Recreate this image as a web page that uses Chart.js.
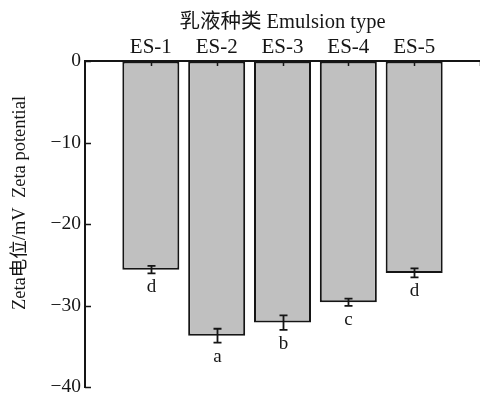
<!DOCTYPE html>
<html>
<head>
<meta charset="utf-8">
<script src="https://cdn.jsdelivr.net/npm/chart.js@4.4.1/dist/chart.umd.min.js"></script>
<style>
  html, body { margin: 0; padding: 0; background: #fff; }
  .chart { position: relative; width: 480px; height: 393px; }
</style>
</head>
<body>
<div class="chart"><canvas id="zeta"></canvas></div>
<script>
const categories = ['ES-1', 'ES-2', 'ES-3', 'ES-4', 'ES-5'];
const zetaValues = [-25.6, -33.7, -32.1, -29.6, -26.0];
const zetaErrors = [0.45, 0.85, 0.9, 0.45, 0.55];
const sigLetters = ['d', 'a', 'b', 'c', 'd'];
const yTicks = [0, -10, -20, -30, -40];
const xTitle = '乳液种类 Emulsion type';
const yTitle = 'Zeta电位/mV  Zeta potential';

const serif = "'Liberation Serif', 'Noto Sans CJK SC', serif";
const ink = '#151515';

// one empty slot each side, as in the figure
const labels = [''].concat(categories, ['']);
const barData = [null].concat(zetaValues, [null]);

const inwardTicks = {
  id: 'inwardTicks',
  afterDraw(chart) {
    const ctx = chart.ctx;
    const x = chart.scales.x, y = chart.scales.y;
    const area = chart.chartArea;
    ctx.save();
    ctx.strokeStyle = ink;
    ctx.lineWidth = 1.5;
    ctx.beginPath();
    for (let i = 1; i < labels.length; i++) {
      const px = Math.round(x.getPixelForValue(i)) + 0.5;
      ctx.moveTo(px, area.top);
      ctx.lineTo(px, area.top + 5);
    }
    yTicks.forEach(v => {
      const py = Math.round(y.getPixelForValue(v)) + 0.5;
      ctx.moveTo(area.left, py);
      ctx.lineTo(area.left + 6, py);
    });
    ctx.stroke();
    ctx.restore();
  }
};

const errorBars = {
  id: 'errorBars',
  afterDatasetsDraw(chart) {
    const ctx = chart.ctx;
    const y = chart.scales.y;
    const meta = chart.getDatasetMeta(0);
    ctx.save();
    ctx.strokeStyle = ink;
    ctx.fillStyle = ink;
    ctx.lineWidth = 1.8;
    ctx.font = '19px ' + serif;
    ctx.textAlign = 'center';
    ctx.textBaseline = 'alphabetic';
    zetaValues.forEach((v, i) => {
      const bar = meta.data[i + 1];
      const px = Math.round(bar.x) + 0.5;
      const hi = y.getPixelForValue(v + zetaErrors[i]);
      const lo = y.getPixelForValue(v - zetaErrors[i]);
      ctx.beginPath();
      ctx.moveTo(px, hi); ctx.lineTo(px, lo);
      ctx.moveTo(px - 4, hi); ctx.lineTo(px + 4, hi);
      ctx.moveTo(px - 4, lo); ctx.lineTo(px + 4, lo);
      ctx.stroke();
      ctx.fillText(sigLetters[i], px, lo + 19);
    });
    ctx.restore();
  }
};

const sideTitle = {
  id: 'sideTitle',
  afterDraw(chart) {
    const ctx = chart.ctx;
    ctx.save();
    ctx.translate(20, 203);
    ctx.rotate(-Math.PI / 2);
    ctx.font = '18.5px ' + serif;
    ctx.fillStyle = ink;
    ctx.textAlign = 'center';
    ctx.textBaseline = 'middle';
    ctx.fillText(yTitle, 0, 0);
    ctx.restore();
  }
};

new Chart(document.getElementById('zeta'), {
  type: 'bar',
  data: {
    labels: labels,
    datasets: [{
      data: barData,
      backgroundColor: '#c0c0c0',
      borderColor: ink,
      borderWidth: 2,
      borderSkipped: false,
      barPercentage: 0.866,
      categoryPercentage: 1,
    }]
  },
  options: {
    responsive: true,
    maintainAspectRatio: false,
    animation: false,
    events: [],
    layout: { padding: 0 },
    plugins: {
      legend: { display: false },
      tooltip: { enabled: false },
    },
    scales: {
      x: {
        position: 'top',
        offset: false,
        grid: { drawOnChartArea: false, drawTicks: false },
        border: { display: true, color: ink, width: 2 },
        ticks: {
          color: ink,
          font: { family: serif, size: 21 },
          padding: 1,
          maxRotation: 0,
          autoSkip: false,
        },
        title: {
          display: true,
          text: xTitle,
          color: ink,
          font: { family: serif, size: 20.5 },
          padding: { top: 10, bottom: 0 },
        },
        afterFit(s) {
          s.height = 61;
          s.paddingLeft = 0;
          s.paddingRight = 0;
        },
      },
      y: {
        min: -40,
        max: 0,
        grid: { drawOnChartArea: false, drawTicks: false },
        border: { display: true, color: ink, width: 2 },
        ticks: {
          stepSize: 10,
          color: ink,
          font: { family: serif, size: 19.5 },
          padding: 4,
          callback: v => String(v).replace('-', '\u2212'),
        },
        afterFit(s) {
          s.width = 85;
          s.paddingTop = 0;
          s.paddingBottom = 6;
        },
      },
    },
  },
  plugins: [errorBars, inwardTicks, sideTitle],
});
</script>
</body>
</html>
